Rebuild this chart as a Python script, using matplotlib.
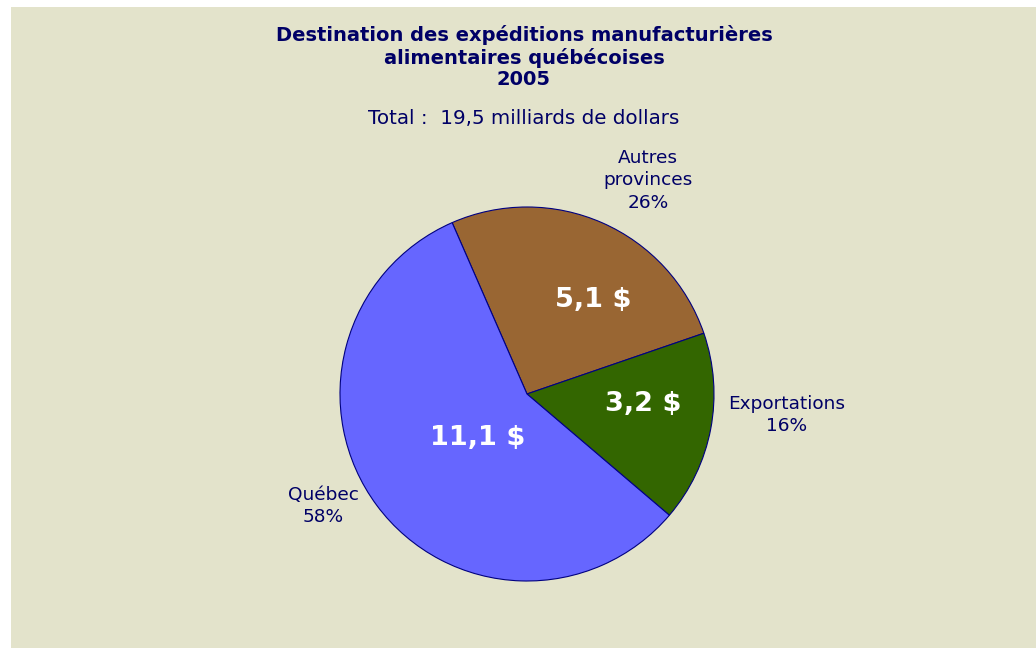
import matplotlib.pyplot as plt
from matplotlib.patches import Rectangle

# data
categories = ['Autres\nprovinces', 'Exportations', 'Québec']
values = [5.1, 3.2, 11.1]
percents = [26, 16, 58]
colors = ['#996633', '#336600', '#6666FF']

title = 'Destination des expéditions manufacturières\nalimentaires québécoises\n2005'
subtitle = 'Total :  19,5 milliards de dollars'

navy = '#000066'
bg = '#E3E3CB'

W, H = 1036, 648
fig = plt.figure(figsize=(W / 100, H / 100), dpi=100)
fig.patch.set_facecolor('white')
fig.patches.append(Rectangle((11 / W, 0), 1 - 11 / W, 1 - 7 / H,
                             transform=fig.transFigure, facecolor=bg,
                             edgecolor='none', zorder=-10))

# pie axes: centre (527, 394) px, radius 187 px
cx, cy, r = 527, 394, 187
ax = fig.add_axes([(cx - r) / W, (H - cy - r) / H, 2 * r / W, 2 * r / H])

wedges, texts = ax.pie(values, colors=colors, startangle=113.6, counterclock=False,
                       radius=1, wedgeprops=dict(edgecolor='#000080', linewidth=0.8))
ax.set_xlim(-1, 1)
ax.set_ylim(-1, 1)
ax.set_aspect('equal')
ax.axis('off')

# label placement (layout only)
outer_pos = [(0.647, 1.144), (1.390, -0.112), (-1.091, -0.599)]
inner_pos = [(0.353, 0.503), (0.620, -0.053), (-0.262, -0.235)]

for cat, p, pos in zip(categories, percents, outer_pos):
  ax.text(pos[0], pos[1], f'{cat}\n{p}%', ha='center', va='center',
          fontsize=13.3, color=navy, linespacing=1.32, clip_on=False)

for v, pos in zip(values, inner_pos):
  lbl = f'{v:.1f}'.replace('.', ',') + ' $'
  ax.text(pos[0], pos[1], lbl, ha='center', va='center', fontsize=19.5,
          fontweight='bold', color='white')

fig.text(524 / W, 1 - 57 / H, title, ha='center', va='center', fontsize=14,
         fontweight='bold', color=navy, linespacing=1.15)
fig.text(524 / W, 1 - 119 / H, subtitle, ha='center', va='center', fontsize=14.3,
         color=navy)

fig.savefig('out.png', dpi=100, facecolor=fig.get_facecolor())
